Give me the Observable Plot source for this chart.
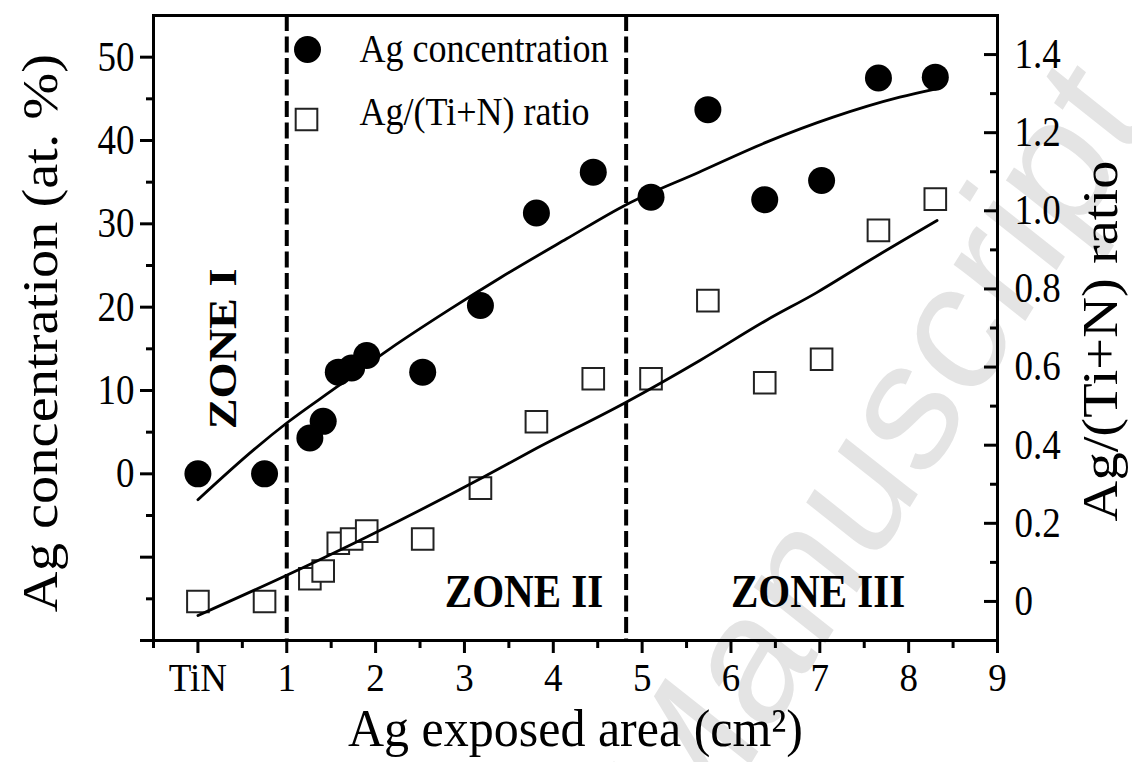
<!DOCTYPE html>
<html>
<head>
<meta charset="utf-8">
<script src="https://cdn.jsdelivr.net/npm/d3@7"></script>
<script src="https://cdn.jsdelivr.net/npm/@observablehq/plot@0.6"></script>
<style>
  html, body { margin: 0; padding: 0; background: #fff; }
  #chart { width: 1132px; height: 762px; }
</style>
</head>
<body>
<div id="chart"></div>
<script>
// ---- data ----
const area    = [0, 0.75, 1.26, 1.41, 1.58, 1.73, 1.90, 2.53, 3.18, 3.81, 4.45, 5.10, 5.74, 6.38, 7.02, 7.66, 8.30];
const agConc  = [0, 0, 4.3, 6.3, 12.2, 12.7, 14.2, 12.2, 20.2, 31.3, 36.2, 33.2, 43.7, 32.9, 35.2, 47.5, 47.6];
const agRatio = [0, 0, 0.058, 0.078, 0.149, 0.16, 0.18, 0.16, 0.29, 0.46, 0.57, 0.57, 0.77, 0.56, 0.62, 0.95, 1.03];

const agFitX = [0, 0.64, 1.0, 1.56, 2.16, 2.83, 3.40, 4.15, 4.82, 5.64, 6.40, 7.15, 7.90, 8.31];
const agFitY = [-3.1, 3.0, 6.1, 10.4, 15.0, 19.7, 23.5, 28.2, 32.3, 36.2, 39.8, 42.8, 45.2, 46.2];
const ratioFitX = [0, 1.0, 1.90, 3.21, 3.77, 4.82, 5.65, 6.40, 6.96, 7.53, 8.32];
const ratioFitY = [-0.036, 0.067, 0.165, 0.318, 0.387, 0.51, 0.617, 0.72, 0.79, 0.869, 0.975];

const zoneBounds = [1, 4.82];
const zoneLabels = ["ZONE I", "ZONE II", "ZONE III"];
const zoneLabelX = [0.28, 3.67, 6.98];
const zoneLabelY = [15.0, -14.2, -14.2];
const zoneLabelRotate = [-90, 0, 0];

const xMajor = [0, 1, 2, 3, 4, 5, 6, 7, 8, 9];
const xTickLabels = ["TiN", "1", "2", "3", "4", "5", "6", "7", "8", "9"];
const xMinor = [-0.5, 0.5, 1.5, 2.5, 3.5, 4.5, 5.5, 6.5, 7.5, 8.5];
const yMajor = [-20, -10, 0, 10, 20, 30, 40, 50];
const yMinor = [-15, -5, 5, 15, 25, 35, 45];
const rMajor = [0, 0.2, 0.4, 0.6, 0.8, 1.0, 1.2, 1.4];
const rTickLabels = ["0", "0.2", "0.4", "0.6", "0.8", "1.0", "1.2", "1.4"];
const rMinor = [0.1, 0.3, 0.5, 0.7, 0.9, 1.1, 1.3];

const legendLabels = ["Ag concentration", "Ag/(Ti+N) ratio"];
const xTitle = "Ag exposed area (cm²)";
const yTitle = "Ag concentration (at. %)";
const rTitle = "Ag/(Ti+N) ratio";

// ---- scales ----
const yDomain = [-20, 55];
const rDomain = [-0.1, 1.5];
// the ratio (right) axis shares the plot's vertical extent: linear map into left-axis units
const toLeft = r => yDomain[0] + (r - rDomain[0]) * (yDomain[1] - yDomain[0]) / (rDomain[1] - rDomain[0]);

const concData = area.map((x, i) => ({x, y: agConc[i]}));
const ratioData = area.map((x, i) => ({x, r: agRatio[i]}));
const agFit = agFitX.map((x, i) => ({x, y: agFitY[i]}));
const ratioFit = ratioFitX.map((x, i) => ({x, r: ratioFitY[i]}));
const zones = zoneLabels.map((t, i) => ({t, x: zoneLabelX[i], y: zoneLabelY[i], rot: zoneLabelRotate[i]}));
const rMajorLeft = rMajor.map(toLeft);

const SERIF = "'Liberation Serif', 'Times New Roman', serif";
const W = 1132, H = 762;
const mL = 153, mR = 135, mT = 15, mB = 122;
const frameW = W - mL - mR;

const plot = Plot.plot({
  width: W,
  height: H,
  marginLeft: mL,
  marginRight: mR,
  marginTop: mT,
  marginBottom: mB,
  style: {fontFamily: SERIF, fontSize: "37px", color: "#000", background: "#fff", overflow: "visible"},
  x: {domain: [-0.5, 9], axis: null},
  y: {domain: yDomain, axis: null},
  marks: [
    // watermark
    Plot.text(["Manuscript"], {frameAnchor: "top-left", dx: 722, dy: 443, rotate: -55,
      fontFamily: "'Liberation Sans', Arial, sans-serif", fontSize: 165, fill: "#e4e4e4",
      textAnchor: "middle", lineAnchor: "middle"}),
    // zone boundaries
    Plot.ruleX(zoneBounds, {stroke: "#000", strokeWidth: 4, strokeDasharray: "16,5.5"}),
    // fits + points
    Plot.line(agFit, {x: "x", y: "y", curve: "monotone-x", stroke: "#000", strokeWidth: 2.8}),
    Plot.dot(ratioData, {x: "x", y: d => toLeft(d.r), symbol: "square", r: 12.2, fill: "#fff", stroke: "#222", strokeWidth: 2}),
    Plot.line(ratioFit, {x: "x", y: d => toLeft(d.r), curve: "monotone-x", stroke: "#000", strokeWidth: 2.8}),
    Plot.dot(concData, {x: "x", y: "y", r: 13.5, fill: "#000", stroke: "none"}),
    // zone labels
    Plot.text(zones, {x: "x", y: "y", text: "t", rotate: "rot", fontWeight: "bold", fontSize: 41,
      textAnchor: "middle", lineAnchor: "middle", fill: "#000"}),
    // legend
    Plot.dot([legendLabels[0]], {frameAnchor: "top-left", dx: 154, dy: 34, r: 13.5, fill: "#000"}),
    Plot.dot([legendLabels[1]], {frameAnchor: "top-left", dx: 153, dy: 104, r: 12.2, symbol: "square", fill: "#fff", stroke: "#222", strokeWidth: 2}),
    Plot.text([legendLabels[0]], {frameAnchor: "top-left", dx: 206, dy: 46, text: d => d, textAnchor: "start", lineAnchor: "bottom", fontSize: 36}),
    Plot.text([legendLabels[1]], {frameAnchor: "top-left", dx: 206, dy: 109, text: d => d, textAnchor: "start", lineAnchor: "bottom", fontSize: 36}),
    // frame
    Plot.frame({stroke: "#000", strokeWidth: 3}),
    // bottom axis
    Plot.axisX(xMajor, {anchor: "bottom", tickSize: 13, tickPadding: 9, strokeWidth: 3,
      tickFormat: d => xTickLabels[xMajor.indexOf(d)], label: null, fontSize: 37}),
    Plot.axisX(xMinor, {anchor: "bottom", tickSize: 8, strokeWidth: 3, tickFormat: () => "", label: null}),
    // left axis
    Plot.axisY(yMajor, {anchor: "left", tickSize: 13, tickPadding: 6, strokeWidth: 3,
      tickFormat: d => d >= 0 ? String(d) : "", label: null, fontSize: 37}),
    Plot.axisY(yMinor, {anchor: "left", tickSize: 7, strokeWidth: 3, tickFormat: () => "", label: null}),
    // right axis (ratio): inward ticks + labels
    Plot.tickY(rMajorLeft, {y: d => d, insetLeft: frameW - 13, stroke: "#000", strokeWidth: 3}),
    Plot.tickY(rMinor.map(toLeft), {y: d => d, insetLeft: frameW - 7, stroke: "#000", strokeWidth: 3}),
    Plot.axisY(rMajorLeft, {anchor: "right", tickSize: 0, tickPadding: 17,
      tickFormat: d => rTickLabels[rMajorLeft.indexOf(d)], label: null, fontSize: 37}),
    // axis titles
    Plot.text([yTitle], {frameAnchor: "left", dx: -113, dy: 5, rotate: -90,
      textAnchor: "middle", lineAnchor: "middle", fontSize: 50}),
    Plot.text([rTitle], {frameAnchor: "right", dx: 103, dy: 13, rotate: -90,
      textAnchor: "middle", lineAnchor: "middle", fontSize: 50}),
    Plot.text([xTitle], {frameAnchor: "bottom", dy: 89,
      textAnchor: "middle", lineAnchor: "middle", fontSize: 50})
  ]
});

// The reference's lettering is drawn taller than a plain Times face: stretch each
// text vertically (screen space) around its own anchor point.
d3.select(plot).selectAll("text").each(function () {
  const g = this.closest("g");
  const aria = g ? (g.getAttribute("aria-label") || "") : "";
  let k = 1.13;
  if (aria.includes("x-axis")) k = 1.08;
  if (this.textContent === xTitle) k = 1.06;
  const t = this.getAttribute("transform") || "";
  const m = t.match(/translate\(\s*([-\d.e]+)[ ,]+([-\d.e]+)\s*\)/);
  let ay = m ? parseFloat(m[2]) : 0;
  if (!/rotate/.test(t)) ay += parseFloat(this.getAttribute("y") || 0) || 0;
  this.setAttribute("transform", `translate(0,${ay}) scale(1,${k}) translate(0,${-ay}) ${t}`.trim());
});

document.getElementById("chart").appendChild(plot);
</script>
</body>
</html>
